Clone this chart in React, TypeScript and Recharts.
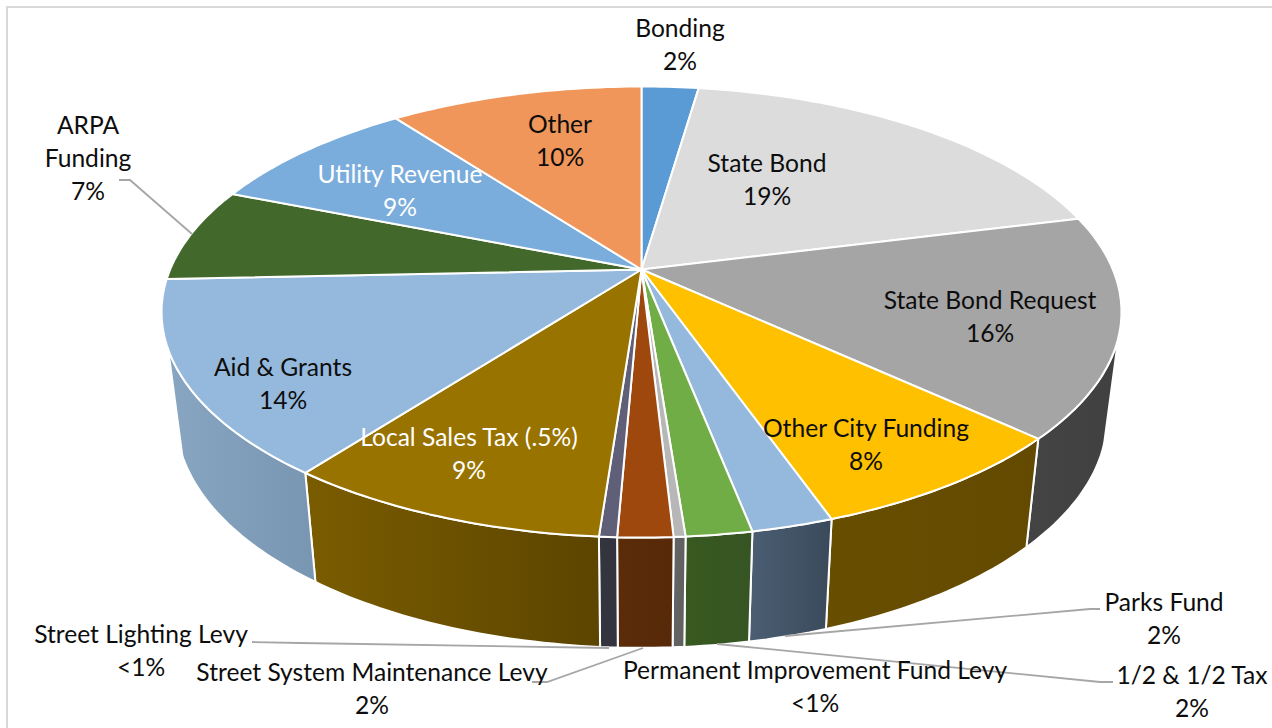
import { Pie, PieChart } from 'recharts';

const categories = [
  'Bonding', 'State Bond', 'State Bond Request', 'Other City Funding', 'Parks Fund',
  '1/2 & 1/2 Tax', 'Permanent Improvement Fund Levy', 'Street System Maintenance Levy',
  'Street Lighting Levy', 'Local Sales Tax (.5%)', 'Aid & Grants', 'ARPA Funding',
  'Utility Revenue', 'Other',
];
const values = [2.3, 18.78, 15.8, 7.74, 2.31, 1.86, 0.33, 1.55, 0.5, 9.2, 13.94, 6.74, 8.71, 10.24];
const percentLabels = ['2%', '19%', '16%', '8%', '2%', '2%', '<1%', '2%', '<1%', '9%', '14%', '7%', '9%', '10%'];

const topColors = [
  '#5b9bd5', '#dcdcdc', '#a5a5a5', '#ffc000', '#95b9dc', '#70ad47', '#b7b7b7',
  '#9e480e', '#5f5f78', '#997300', '#95b9dc', '#43682b', '#7aaddc', '#f0965a',
];
const wallLight = [
  '#4a7cab', '#b0b0b0', '#444444', '#684e00', '#4b5e73', '#38591f', '#646464',
  '#5c2c09', '#34353f', '#7a5c00', '#88a6c2', '#355322', '#6290b8', '#c07948',
];
const wallDark = [
  '#3f6a92', '#a0a0a0', '#404040', '#634a00', '#3a4a5b', '#365524', '#606060',
  '#572908', '#32333d', '#5c4500', '#7896b2', '#2f4a1e', '#5580a6', '#ad6c40',
];

// label centres and leader lines, in page pixels
const labelPositions = [
  [680, 27], [767, 162], [990, 299], [866, 427], [1164, 601], [1192, 674], [815, 669],
  [372, 671], [141, 633], [469, 436], [283, 366], [88, 124], [400, 173], [560, 123],
];
const leaders: Record<string, string> = {
  'ARPA Funding': '119,180 130,180 192,234',
  'Street Lighting Levy': '252,642 300,643 609,648',
  'Street System Maintenance Levy': '532,682 547,682 643,648',
  '1/2 & 1/2 Tax': '1113,682 1100,682 717,644',
  'Parks Fund': '1100,609 1090,609 785,636',
};
const whiteLabels = ['Local Sales Tax (.5%)', 'Utility Revenue'];

const tableData = categories.map((name, i) => ({
  name,
  value: values[i],
  fill: topColors[i],
  index: i,
}));

const CX = 641.5;
const CY = 269.5;
const RADIUS = 479;
const PERSPECTIVE = 0.1885;
const WALL_DROP = 105;
const WALL_SCALE_X = 0.97;
const WALL_SCALE_Y = 1.02;
const WALL_MIN = 107;
const WALL_MAX = 250;

// pie angle (clockwise from the top) onto the tilted disc
function project(cx: number, cy: number, r: number, theta: number) {
  const rad = (theta * Math.PI) / 180;
  const v = Math.sin(rad);
  const u = -Math.cos(rad);
  const d = 1 - PERSPECTIVE * u;
  return [cx + (r * 0.984 * v) / d, cy + (r * 0.454 * u) / d];
}

function arc(cx: number, cy: number, r: number, from: number, to: number) {
  const pts: number[][] = [];
  const steps = Math.max(2, Math.ceil(to - from));
  for (let i = 0; i <= steps; i++) {
    pts.push(project(cx, cy, r, from + ((to - from) * i) / steps));
  }
  return pts;
}

const toPath = (pts: number[][]) =>
  'M' + pts.map((p) => `${p[0].toFixed(1)},${p[1].toFixed(1)}`).join('L') + 'Z';

function TopFace(props: any) {
  const { cx, cy, outerRadius, startAngle, endAngle, fill } = props;
  const pts = [[cx, cy], ...arc(cx, cy, outerRadius, 90 - startAngle, 90 - endAngle)];
  return <path d={toPath(pts)} fill={fill} stroke="#fff" strokeWidth={2} strokeLinejoin="round" />;
}

function WallFace(props: any) {
  const { cx, cy, outerRadius, startAngle, endAngle, index } = props;
  const from = Math.max(90 - startAngle, WALL_MIN);
  const to = Math.min(90 - endAngle, WALL_MAX);
  if (to <= from) return null;
  const top = arc(cx, cy, outerRadius, from, to);
  const bottom = top
    .map((p) => [cx + (p[0] - cx) * WALL_SCALE_X, cy + WALL_DROP + (p[1] - cy) * WALL_SCALE_Y])
    .reverse();
  const id = `wall-grad-${index}`;
  return (
    <g>
      <defs>
        <linearGradient id={id} x1="0" y1="0" x2="1" y2="0">
          <stop offset="0%" stopColor={wallLight[index]} />
          <stop offset="100%" stopColor={wallDark[index]} />
        </linearGradient>
      </defs>
      <path d={toPath([...top, ...bottom])} fill={`url(#${id})`} stroke="#fff" strokeWidth={2} strokeLinejoin="round" />
    </g>
  );
}

function renderLabel(props: any) {
  const i = props.index;
  const name = categories[i];
  const [x, y] = labelPositions[i];
  const lines = name === 'ARPA Funding' ? ['ARPA', 'Funding', percentLabels[i]] : [name, percentLabels[i]];
  const color = whiteLabels.includes(name) ? '#ffffff' : '#0d0d0d';
  return (
    <g key={name}>
      {leaders[name] && <polyline points={leaders[name]} fill="none" stroke="#a6a6a6" strokeWidth={1.8} />}
      {lines.map((line, j) => (
        <text
          key={j}
          x={x}
          y={y + j * 33}
          textAnchor="middle"
          dominantBaseline="central"
          fill={color}
          fontFamily="Lato, sans-serif"
          fontSize={24.6}
        >
          {line}
        </text>
      ))}
    </g>
  );
}

export default function App() {
  return (
    <div style={{ position: 'absolute', left: 0, top: 0, width: 1272, height: 728, background: '#fff', overflow: 'hidden' }}>
      <div
        style={{
          position: 'absolute',
          left: 6,
          top: 6,
          width: 1272,
          height: 728,
          borderLeft: '2px solid #d9d9d9',
          borderTop: '2px solid #d9d9d9',
        }}
      />
      <PieChart width={1272} height={728} margin={{ top: 0, right: 0, bottom: 0, left: 0 }} style={{ position: 'absolute', left: 0, top: 0 }}>
        <Pie
          data={tableData}
          dataKey="value"
          cx={CX}
          cy={CY}
          outerRadius={RADIUS}
          startAngle={90}
          endAngle={-270}
          shape={WallFace}
          stroke="none"
          isAnimationActive={false}
        />
        <Pie
          data={tableData}
          dataKey="value"
          cx={CX}
          cy={CY}
          outerRadius={RADIUS}
          startAngle={90}
          endAngle={-270}
          shape={TopFace}
          label={renderLabel}
          labelLine={false}
          isAnimationActive={false}
        />
      </PieChart>
    </div>
  );
}
